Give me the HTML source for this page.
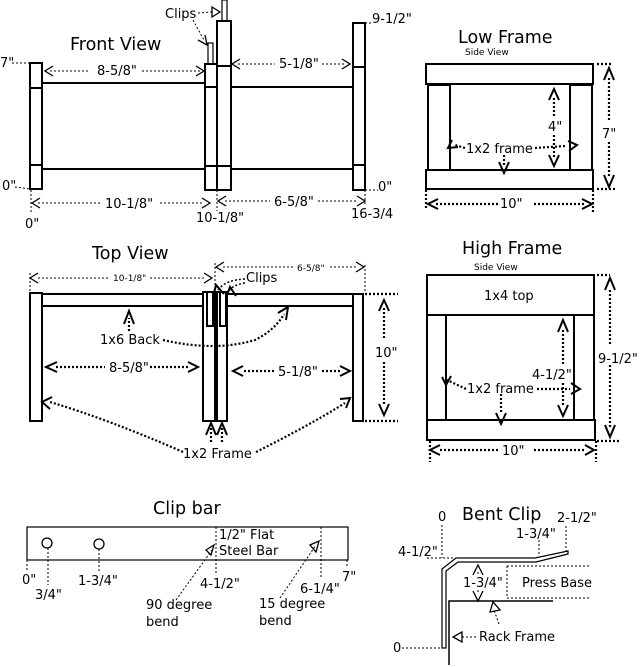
<!DOCTYPE html>
<html><head><meta charset="utf-8"><style>
html,body{margin:0;padding:0;background:#fff}
svg{display:block}
text{font-family:"DejaVu Sans","Liberation Sans",sans-serif;fill:#000;font-size:13px}
.t{font-size:17.5px}
.s{font-size:9px}
.b{fill:#fff;stroke:#000;stroke-width:2}
.l{stroke:#000;stroke-width:2;fill:none}
.d{stroke:#000;stroke-width:1;stroke-dasharray:2,2;fill:none}
.D{stroke:#000;stroke-width:2.2;stroke-dasharray:2,2;fill:none}
.a{fill:none;stroke:#000;stroke-width:1.3}
.A{fill:none;stroke:#000;stroke-width:2}
</style></head><body>
<svg width="640" height="667" viewBox="0 0 640 667" xmlns="http://www.w3.org/2000/svg">
<!-- FRONT VIEW -->
<text x="70" y="50" class="t">Front View</text>
<line class="l" x1="42" y1="83" x2="205" y2="83"/><line class="l" x1="42" y1="169" x2="205" y2="169"/>
<line class="l" x1="231" y1="87" x2="353" y2="87"/><line class="l" x1="231" y1="169" x2="353" y2="169"/>
<rect class="b" x="30" y="63" width="12" height="126"/><line class="l" x1="30" y1="88" x2="42" y2="88"/><line class="l" x1="30" y1="165" x2="42" y2="165"/>
<rect class="b" x="208" y="43" width="5" height="21" style="stroke-width:1.2"/>
<rect class="b" x="205" y="64" width="12" height="126"/><line class="l" x1="205" y1="87" x2="217" y2="87"/><line class="l" x1="205" y1="166" x2="217" y2="166"/>
<rect class="b" x="222" y="0" width="5" height="21" style="stroke-width:1.2"/>
<rect class="b" x="217" y="21" width="14" height="169"/><line class="l" x1="217" y1="66" x2="231" y2="66"/><line class="l" x1="217" y1="166" x2="231" y2="166"/>
<rect class="b" x="353" y="23" width="12" height="167"/><line class="l" x1="353" y1="67" x2="365" y2="67"/><line class="l" x1="353" y1="165" x2="365" y2="165"/>
<text x="165" y="18">Clips</text>
<path class="d" d="M198 13 L212 12"/><path class="a" d="M212 7 L220 12 L212 17 Z"/>
<path class="d" d="M193 20 Q200 33 204 40"/><path class="a" d="M198 40 L207 45 L205 35"/>
<text x="0" y="67">7"</text><path class="d" d="M12 63 L30 63"/>
<path class="d" d="M50 71 L90 71 M142 71 L200 71"/><path class="a" d="M53 66 L45 71 L53 76 M196 66 L204 71 L196 76"/>
<text x="97" y="75">8-5/8"</text>
<path class="d" d="M238 64 L275 64 M322 64 L345 64"/><path class="a" d="M240 59 L232 64 L240 69 M342 59 L350 64 L342 69"/>
<text x="279" y="68">5-1/8"</text>
<text x="372" y="23">9-1/2"</text><path class="d" d="M365 23 L372 23"/>
<text x="2" y="190">0"</text><path class="d" d="M15 187 L30 189"/>
<text x="378" y="191">0"</text><path class="d" d="M365 190 L378 190"/>
<path class="d" d="M31 190 L31 213 M217 190 L217 211 M365 190 L365 204"/>
<path class="d" d="M38 203 L100 203 M160 203 L204 203"/><path class="a" d="M40 198 L32 203 L40 208 M202 198 L210 203 L202 208"/>
<text x="105" y="208">10-1/8"</text>
<path class="d" d="M225 201 L270 201 M318 201 L358 201"/><path class="a" d="M226 196 L218 201 L226 206 M357 196 L365 201 L357 206"/>
<text x="274" y="206">6-5/8"</text>
<text x="25" y="228">0"</text>
<text x="196" y="222">10-1/8"</text>
<text x="351" y="218">16-3/4</text>

<!-- TOP VIEW -->
<text x="92" y="259" class="t">Top View</text>
<path class="d" d="M30 273 L30 293 M215 263 L215 293 M365 265 L365 293"/>
<path class="d" d="M38 278 L110 278 M150 278 L205 278"/><path class="a" d="M38 273 L30 278 L38 283 M204 273 L212 278 L204 283"/>
<text x="113" y="281" class="s">10-1/8"</text>
<path class="d" d="M223 267 L295 267 M330 267 L357 267"/><path class="a" d="M224 262 L216 267 L224 272 M356 262 L364 267 L356 272"/>
<text x="297" y="271" class="s">6-5/8"</text>
<rect class="b" x="42" y="294" width="161" height="12"/><rect class="b" x="227" y="294" width="126" height="12"/>
<rect class="b" x="30" y="293" width="12" height="128"/>
<rect class="b" x="203" y="292" width="12" height="129"/><rect class="b" x="217" y="292" width="10" height="129"/>
<rect class="b" x="207" y="292" width="6" height="34"/><rect class="b" x="220" y="292" width="6" height="34"/>
<rect class="b" x="353" y="294" width="10" height="127"/>
<text x="246" y="282">Clips</text>
<path class="D" d="M245 279 Q225 280 218 290 M245 283 Q232 285 228 292" style="stroke-width:1.5"/>
<path class="A" d="M213 297 L216 285 L224 294 M226 298 L230 287 L236 296"/>
<text x="100" y="344">1x6 Back</text>
<path class="D" d="M129 331 L129 318"/><path class="A" d="M124 324 L129 311 L134 324"/>
<path class="D" d="M163 340 Q215 352 255 340 Q275 330 284 314"/><path class="A" d="M278 313 L288 307 L286 320"/>
<path class="D" d="M56 367 L105 367 M150 367 L190 367"/><path class="A" d="M57 362 L46 367 L57 372 M188 362 L198 367 L188 372"/>
<text x="109" y="372">8-5/8"</text>
<path class="D" d="M244 371 L276 371 M322 371 L342 371"/><path class="A" d="M243 366 L233 371 L243 376 M340 366 L350 371 L340 376"/>
<text x="278" y="376">5-1/8"</text>
<path class="D" d="M365 294 L398 294 M365 421 L398 421"/>
<path class="D" d="M384 308 L384 340 M384 362 L384 405"/><path class="A" d="M379 311 L384 300 L389 311 M379 404 L384 415 L389 404"/>
<text x="375" y="357">10"</text>
<text x="183" y="458">1x2 Frame</text>
<path class="D" d="M183 452 Q110 420 50 402"/><path class="A" d="M52 397 L42 402 L50 409"/>
<path class="D" d="M256 452 Q310 425 345 403"/><path class="A" d="M340 399 L350 398 L346 408"/>
<path class="D" d="M211 442 L211 428 M222 442 L222 428"/><path class="A" d="M206 435 L211 423 L216 435 M217 435 L222 423 L227 435"/>

<!-- LOW FRAME -->
<text x="458" y="43" class="t">Low Frame</text>
<text x="465" y="55" class="s">Side View</text>
<rect class="b" x="426" y="64" width="167" height="20"/>
<rect class="b" x="428" y="85" width="22" height="85"/><rect class="b" x="570" y="85" width="22" height="85"/>
<rect class="b" x="426" y="170" width="167" height="19"/>
<path class="D" d="M597 64 L611 64 M597 189 L615 189"/>
<path class="D" d="M609 78 L609 120 M609 142 L609 178"/><path class="A" d="M604 80 L609 68 L614 80 M604 175 L609 187 L614 175"/>
<text x="602" y="138">7"</text>
<path class="D" d="M554 98 L554 118 M554 135 L554 158"/><path class="A" d="M549 100 L554 89 L559 100 M549 155 L554 166 L559 155"/>
<text x="548" y="131">4"</text>
<text x="466" y="153">1x2 frame</text>
<path class="D" d="M465 148 L455 145 M535 148 L565 146 M504 155 L504 167"/>
<path class="A" d="M452 140 L448 148 L458 147 M568 141 L577 145 L569 151 M499 162 L504 173 L509 162"/>
<path class="D" d="M426 190 L426 210 M593 190 L593 212"/>
<path class="D" d="M436 204 L498 204 M534 204 L584 204"/><path class="A" d="M438 199 L428 204 L438 209 M582 199 L592 204 L582 209"/>
<text x="500" y="208">10"</text>

<!-- HIGH FRAME -->
<text x="462" y="254" class="t">High Frame</text>
<text x="474" y="270" class="s">Side View</text>
<rect class="b" x="427" y="275" width="167" height="40"/>
<text x="484" y="300">1x4 top</text>
<rect class="b" x="427" y="315" width="19" height="105"/><rect class="b" x="574" y="315" width="20" height="105"/>
<rect class="b" x="427" y="420" width="168" height="20"/>
<path class="D" d="M597 275 L610 275 M597 441 L620 441"/>
<path class="D" d="M610 290 L610 345 M610 365 L610 428"/><path class="A" d="M605 290 L610 278 L615 290 M605 425 L610 437 L615 425"/>
<text x="598" y="363">9-1/2"</text>
<path class="D" d="M563 330 L563 365 M563 383 L563 405"/><path class="A" d="M558 332 L563 320 L568 332 M558 405 L563 416 L568 405"/>
<text x="532" y="379">4-1/2"</text>
<text x="467" y="393">1x2 frame</text>
<path class="D" d="M466 389 L447 380 M537 389 L570 389 M501 394 L501 414"/>
<path class="A" d="M442 377 L446 385 L451 376 M571 383 L580 389 L571 394 M496 413 L501 424 L506 413"/>
<path class="D" d="M430 441 L430 462 M596 441 L596 462"/>
<path class="D" d="M440 450 L500 450 M534 450 L584 450"/><path class="A" d="M440 445 L430 450 L440 455 M585 445 L594 450 L585 455"/>
<text x="502" y="455">10"</text>

<!-- CLIP BAR -->
<text x="153" y="514" class="t">Clip bar</text>
<rect x="27" y="527" width="321" height="33" fill="#fff" stroke="#000" stroke-width="1.2"/>
<circle cx="47" cy="543" r="5" fill="#fff" stroke="#000" stroke-width="1.3"/>
<circle cx="99" cy="544" r="5" fill="#fff" stroke="#000" stroke-width="1.3"/>
<text x="219" y="539">1/2" Flat</text>
<text x="219" y="555">Steel Bar</text>
<path class="d" d="M216 527 L216 575 M321 527 L321 578 M27 560 L27 572 M48 548 L48 585 M99 549 L99 573 M347 560 L347 567"/>
<path class="d" d="M176 600 L212 550 M280 598 L316 545"/>
<path class="a" d="M206 550 L214 545 L211 555 Z M310 545 L319 541 L316 552 Z"/>
<text x="22" y="584">0"</text>
<text x="35" y="599">3/4"</text>
<text x="78" y="585">1-3/4"</text>
<text x="200" y="588">4-1/2"</text>
<text x="300" y="593">6-1/4"</text>
<text x="342" y="581">7"</text>
<text x="146" y="609">90 degree</text>
<text x="146" y="626">bend</text>
<text x="259" y="608">15 degree</text>
<text x="259" y="625">bend</text>

<!-- BENT CLIP -->
<text x="462" y="520" class="t">Bent Clip</text>
<text x="438" y="521">0</text>
<text x="557" y="522">2-1/2"</text>
<text x="516" y="538">1-3/4"</text>
<text x="398" y="556">4-1/2"</text>
<path class="d" d="M442 525 L442 558 M427 558 L455 558 M539 540 L539 556 M566 526 L566 552"/>
<path d="M442 648 L442 569 L456 558 L535 558 L568 551 L568 554 L536 562 L458 562 L446 571 L446 648 Z" fill="#fff" stroke="#000" stroke-width="1.2"/>
<path class="l" d="M449 665 L449 601 L553 601" style="stroke-width:1.5"/>
<path class="d" d="M507 566 L590 566 M507 566 L507 598 L590 598"/>
<text x="522" y="587">Press Base</text>
<text x="463" y="587">1-3/4"</text>
<path class="d" d="M478 572 L478 576 M478 590 L478 594"/>
<path class="a" d="M473 575 L478 565 L483 575 M473 591 L478 601 L483 591"/>
<path class="d" d="M499 624 L494 610"/><path class="a" d="M490 612 L493 602 L500 610 Z"/>
<text x="479" y="641">Rack Frame</text>
<path class="d" d="M462 637 L478 637"/><path class="a" d="M462 632 L453 637 L462 642 Z"/>
<text x="393" y="652">0</text><path class="d" d="M402 648 L442 648"/>
</svg>
</body></html>
